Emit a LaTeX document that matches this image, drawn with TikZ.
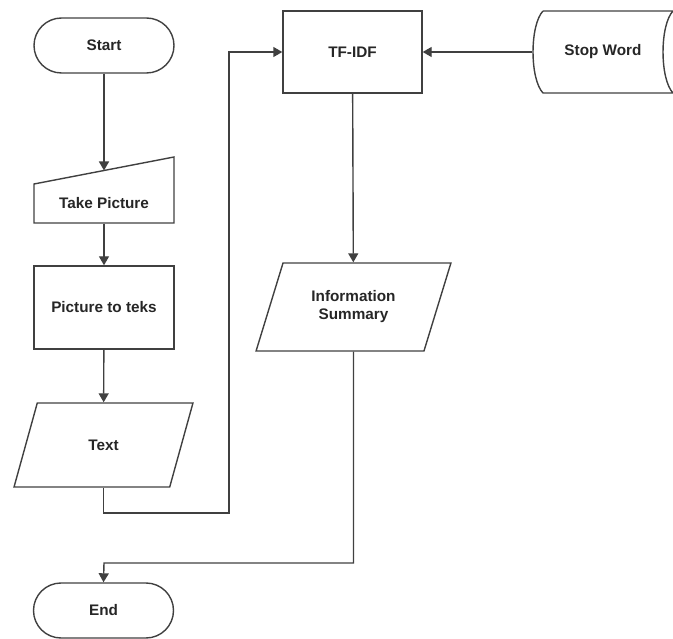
\documentclass[tikz,border=0pt]{standalone}
\usepackage{fontspec}
\setmainfont{Liberation Sans}
\usetikzlibrary{arrows.meta,shapes.geometric}
\begin{document}
\begin{tikzpicture}[>={Triangle[length=9pt,width=10pt]},x=1pt,y=-1pt,
        font=\fontsize{15.3}{18}\selectfont\bfseries,
        line width=1.4pt,draw=black!75,text=black!85,
        term/.style={draw,rectangle,rounded corners=27.5pt,minimum width=140pt,minimum height=55pt},
        proc/.style={draw,rectangle,minimum width=140pt,minimum height=83pt},
        io/.style={draw,trapezium,trapezium left angle=63.5,trapezium right angle=116.5,trapezium stretches=true,inner sep=0pt},
        plain/.style={inner sep=0pt}]
    \useasboundingbox (0,0) rectangle (673,639);
    % left column
    \node[term] (start) at (104,45.5) {Start};
    \draw (34,184)--(174,157)--(174,223)--(34,223)--cycle;
    \node[plain,minimum width=140pt,minimum height=40pt] (tp) at (104,203) {Take Picture};
    \coordinate (tptop) at (104,170.5);
    \node[proc] (ptt) at (104,307.5) {Picture to teks};
    \node[io,minimum width=179pt,minimum height=84pt] (txt) at (103.5,445) {Text};
    \node[term] (end) at (103.5,610.5) {End};
    % right part
    \node[proc,minimum width=139pt,minimum height=82pt] (tfidf) at (352.5,52) {TF-IDF};
    \draw (543,11)--(673,11) .. controls (659.7,25) and (659.7,79) .. (673,93)--(543,93) .. controls (529.7,79) and (529.7,25) .. (543,11);
    \node[plain,minimum width=140pt,minimum height=82pt] (sw) at (603,52) {Stop Word};
    \node[io,minimum width=195pt,minimum height=88pt,align=center] (info) at (353.5,307) {Information\\Summary};
    \coordinate (bend1) at (229,513);
    \coordinate (bend2) at (104,563);
    % connectors
    \draw[->] (start) -- (tptop);
    \draw[->] (tp) -- (ptt);
    \draw[->] (ptt) -- (txt);
    \draw[->] (txt.south) |- (bend1) |- (tfidf.west);
    \draw[->] (sw.west) -- (tfidf.east);
    \draw[->] (tfidf) -- (info);
    \draw[->] (info.south) |- (bend2) -- (end.north);
\end{tikzpicture}
\end{document}
